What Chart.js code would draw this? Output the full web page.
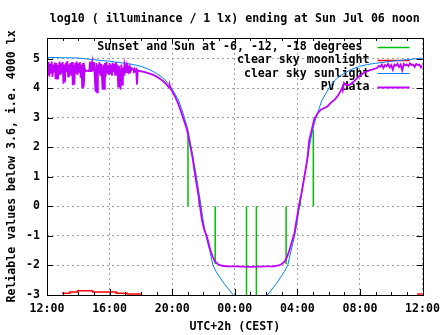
<!DOCTYPE html>
<html>
<head>
<meta charset="utf-8">
<script src="https://cdn.jsdelivr.net/npm/chart.js@4/dist/chart.umd.min.js"></script>
<style>
  html, body { margin: 0; padding: 0; background: #fff; }
</style>
</head>
<body>
<canvas id="chart" width="447" height="335"></canvas>
<script>
// x values are hours after 12:00 (Sat) -> 0..24
const xTickLabels = ["12:00", "16:00", "20:00", "00:00", "04:00", "08:00", "12:00"];

// Sunset / sun at -6, -12, -18 degrees (vertical markers from 0)
const sunHours = [9.01, 9.73, 10.75, 12.75, 13.38, 15.28, 16.19, 17.02];
const sunLevels = [2.4, 0.35, -1.95, -3, -3, -1.95, 0.35, 2.6];

// clear sky moonlight
const moonHours = [1.01, 1.46, 1.96, 2.91, 4.43, 5.13, 5.70, 6.08, null, 23.65, 24];
const moonLog = [-2.97, -2.94, -2.90, -2.86, -2.90, -2.94, -2.97, -2.97, null, -2.97, -2.97];

// clear sky sunlight
const skyHours = [0, 1, 2, 3, 4, 5, 5.5, 6, 6.5, 7, 7.5, 7.8, 8.1, 8.4, 8.6, 8.8, 9.0, 9.2, 9.4, 9.55,
  9.7, 9.85, 10.0, 10.17, 10.4, 10.6, 10.8, 11.0, 11.3, 11.6, 11.9, 12.2, 12.99, 13.8, 14.08, 14.38,
  14.68, 14.96, 15.18, 15.39, 15.6, 15.81, 15.98, 16.13, 16.28, 16.44, 16.6, 16.78, 16.98, 17.18,
  17.38, 17.58, 17.88, 18.18, 18.48, 18.98, 19.48, 19.98, 20.48, 20.98, 21.98, 22.98, 24];
const skyLog = [5.04, 5.03, 5.02, 4.96, 4.91, 4.84, 4.80, 4.74, 4.64, 4.50, 4.31, 4.12, 3.88, 3.60, 3.30, 2.98, 2.60, 2.05, 1.45, 1.00,
  0.50, 0.00, -0.55, -1.03, -1.50, -1.98, -2.20, -2.37, -2.60, -2.80, -3.00, -3.25, -3.50, -3.25, -3.00, -2.80,
  -2.60, -2.37, -2.20, -1.98, -1.50, -1.03, -0.55, 0.00, 0.50, 1.00, 1.45, 2.05, 2.60, 2.98,
  3.30, 3.60, 3.88, 4.12, 4.31, 4.50, 4.64, 4.74, 4.80, 4.84, 4.91, 4.96, 5.02];

// PV data, noisy afternoon part sampled every 3 minutes from 12:00
const pvNoisyStep = 0.05;
const pvNoisyLog = [
  4.85, 4.45, 4.88, 4.40, 4.82, 4.50, 4.90, 4.38, 4.80, 4.55,
  4.87, 4.30, 4.85, 4.32, 4.78, 4.60, 4.90, 4.45, 4.84, 4.50,
  4.88, 4.15, 4.80, 4.20, 4.86, 4.55, 4.92, 4.40, 4.80, 4.62,
  4.85, 4.42, 4.88, 4.10, 4.78, 4.12, 4.86, 4.50, 4.90, 4.45,
  4.84, 4.55, 4.88, 4.35, 4.80, 4.02, 4.85, 4.05, 4.70, 4.58,
  4.58, 4.58, 4.60, 4.58, 4.58, 4.90, 4.58, 4.58, 4.85, 4.60,
  4.88, 4.40, 3.88, 4.85, 3.86, 4.80, 4.50, 4.88, 4.45, 4.82,
  4.55, 3.95, 4.80, 3.98, 4.85, 4.40, 4.88, 4.50, 4.78, 4.45,
  4.85, 4.48, 4.80, 4.42, 4.86, 4.55, 4.82, 4.45, 4.88, 4.50,
  4.80, 4.05, 4.75, 4.45, 3.95, 4.80, 4.12, 4.70, 4.40, 4.78,
  4.60, 4.75, 4.52, 4.72, 4.58, 4.70, 4.50, 4.68, 4.62, 4.66,
  4.64, 4.60, 4.66, 4.58, 4.62, 4.12, 4.60, 4.58
];
// PV data, evening / night / morning
const pvTailHours = [5.9, 6.2, 6.5, 6.8, 7.1, 7.4, 7.65, 7.8, 7.85, 7.9, 8.0, 8.2, 8.4, 8.6, 8.74, 8.95, 9.16, 9.3, 9.48, 9.69,
  9.9, 10.05, 10.22, 10.43, 10.6, 10.75, 10.96, 11.2, 11.5, 12.0, 12.5, 13.0, 13.5, 14.0, 14.5, 14.8, 15.0, 15.18, 15.35, 15.5,
  15.65, 15.81, 15.97, 16.13, 16.23, 16.45, 16.66, 16.76, 16.87, 17.08, 17.3, 17.5, 17.92, 18.13, 18.4, 18.6, 18.76, 18.85, 18.9, 18.98,
  19.1, 19.3, 19.62, 19.9, 20.25, 20.6, 21.09, 21.2, 21.3, 21.4, 21.5, 21.6, 21.7, 21.8, 21.9, 22.0, 22.1, 22.2, 22.3, 22.4,
  22.5, 22.6, 22.7, 22.8, 22.9, 23.0, 23.1, 23.2, 23.3, 23.4, 23.5, 23.6, 23.7, 23.8, 23.9, 24.0];
const pvTailLog = [4.58, 4.55, 4.50, 4.45, 4.36, 4.25, 4.12, 4.02, 4.08, 3.98, 3.90, 3.70, 3.45, 3.15, 2.93, 2.59, 2.03, 1.65, 1.01, 0.34,
  -0.46, -0.80, -1.02, -1.47, -1.72, -1.87, -1.97, -2.01, -2.03, -2.03, -2.04, -2.05, -2.04, -2.03, -2.03, -2.00, -1.95, -1.87, -1.70, -1.47,
  -1.20, -0.91, -0.40, 0.11, 0.33, 1.00, 1.69, 2.25, 2.48, 2.95, 3.15, 3.27, 3.38, 3.50, 3.62, 3.75, 3.90, 4.00, 3.92, 4.18,
  4.12, 4.10, 4.23, 4.38, 4.52, 4.60, 4.68, 4.75, 4.72, 4.80, 4.68, 4.78, 4.74, 4.82, 4.70, 4.78, 4.62, 4.80, 4.76, 4.83,
  4.72, 4.80, 4.60, 4.82, 4.77, 4.80, 4.74, 4.84, 4.78, 4.80, 4.72, 4.82, 4.78, 4.80, 4.70, 4.76];

const titleText = "log10 ( illuminance / 1 lx) ending at Sun Jul 06 noon";

// build point lists
const sunPts = [];
sunHours.forEach((h, i) => {
  sunPts.push({ x: h, y: 0 }, { x: h, y: sunLevels[i] }, { x: h, y: null });
});
const moonPts = moonHours.map((h, i) => ({ x: h, y: moonLog[i] }));
const skyPts = skyHours.map((h, i) => ({ x: h, y: skyLog[i] }));
const pvPts = pvNoisyLog.map((v, i) => ({ x: i * pvNoisyStep, y: v }))
  .concat(pvTailHours.map((h, i) => ({ x: h, y: pvTailLog[i] })));

Chart.defaults.font.family = "'DejaVu Sans Mono', monospace";
Chart.defaults.font.size = 11.6;
Chart.defaults.font.weight = "bold";
Chart.defaults.color = "#000";

// gnuplot style frame, inward ticks and key
const gnuplotFrame = {
  id: "gnuplotFrame",
  beforeDatasetsDraw(chart) {
    const { ctx, chartArea: a } = chart;
    ctx.save();
    ctx.font = "bold 11.6px 'DejaVu Sans Mono', monospace";
    ctx.textAlign = "right";
    ctx.textBaseline = "middle";
    chart.data.datasets.forEach((ds, i) => {
      const yy = a.top + 8.7 + i * 13.33;
      ctx.fillStyle = "#000";
      ctx.fillText(ds.label, a.right - 53, yy + 0.5);
      ctx.strokeStyle = ds.borderColor;
      ctx.lineWidth = ds.borderWidth;
      ctx.beginPath();
      ctx.moveTo(a.right - 45, Math.round(yy) + 0.5);
      ctx.lineTo(a.right - 13, Math.round(yy) + 0.5);
      ctx.stroke();
    });
    ctx.restore();
  },
  afterDatasetsDraw(chart) {
    const { ctx, chartArea: a, scales: { x, y } } = chart;
    ctx.save();
    ctx.strokeStyle = "#000";
    ctx.lineWidth = 1;
    ctx.beginPath();
    for (let h = 0; h <= 24; h++) {
      const px = Math.round(x.getPixelForValue(h)) + 0.5;
      const len = h % 4 === 0 ? 6 : 3;
      ctx.moveTo(px, a.bottom); ctx.lineTo(px, a.bottom - len);
      ctx.moveTo(px, a.top); ctx.lineTo(px, a.top + len);
    }
    y.ticks.forEach((t) => {
      const py = Math.round(y.getPixelForValue(t.value)) + 0.5;
      ctx.moveTo(a.left, py); ctx.lineTo(a.left + 6, py);
      ctx.moveTo(a.right, py); ctx.lineTo(a.right - 6, py);
    });
    ctx.stroke();
    ctx.strokeRect(Math.round(a.left) + 0.5, Math.round(a.top) + 0.5,
      Math.round(a.right - a.left), Math.round(a.bottom - a.top));
    ctx.restore();
  }
};

new Chart(document.getElementById("chart"), {
  type: "line",
  data: {
    datasets: [
      {
        label: "Sunset and Sun at -6, -12, -18 degrees ",
        data: sunPts,
        borderColor: "#00c000",
        borderWidth: 1.5,
        order: 3
      },
      {
        label: "clear sky moonlight",
        data: moonPts,
        borderColor: "#ff0000",
        borderWidth: 1.5,
        stepped: "after",
        order: 2
      },
      {
        label: "clear sky sunlight",
        data: skyPts,
        borderColor: "#0080ff",
        borderWidth: 1,
        clip: 0,
        order: 1
      },
      {
        label: "PV data",
        data: pvPts,
        borderColor: "#c000ff",
        borderWidth: 1.8,
        order: 0
      }
    ]
  },
  options: {
    responsive: false,
    animation: false,
    layout: { padding: { right: 21 } },
    elements: { point: { radius: 0 }, line: { tension: 0 } },
    plugins: {
      legend: { display: false },
      tooltip: { enabled: false },
      title: {
        display: true,
        text: titleText,
        fullSize: false,
        padding: { top: 12, bottom: 12 },
        font: { size: 11.6, weight: "bold" }
      }
    },
    scales: {
      x: {
        type: "linear",
        min: 0,
        max: 24,
        afterFit: (s) => { s.height = 40; },
        ticks: {
          stepSize: 4,
          autoSkip: false,
          maxRotation: 0,
          padding: 7,
          callback: (v) => xTickLabels[Math.round(v / 4)]
        },
        grid: { color: "#a0a0a0", drawTicks: false },
        border: { display: false, dash: [2, 3] },
        title: { display: true, text: "UTC+2h (CEST)", padding: { top: 0, bottom: 1 } }
      },
      y: {
        min: -3,
        max: 5.7,
        afterFit: (s) => { s.width = 47; },
        ticks: { stepSize: 1, includeBounds: false, padding: 7 },
        grid: { color: "#a0a0a0", drawTicks: false },
        border: { display: false, dash: [2, 3] },
        title: { display: true, text: "Reliable values below 3.6, i.e. 4000 lx", padding: { top: 5, bottom: 0 } }
      }
    }
  },
  plugins: [gnuplotFrame]
});
</script>
</body>
</html>
